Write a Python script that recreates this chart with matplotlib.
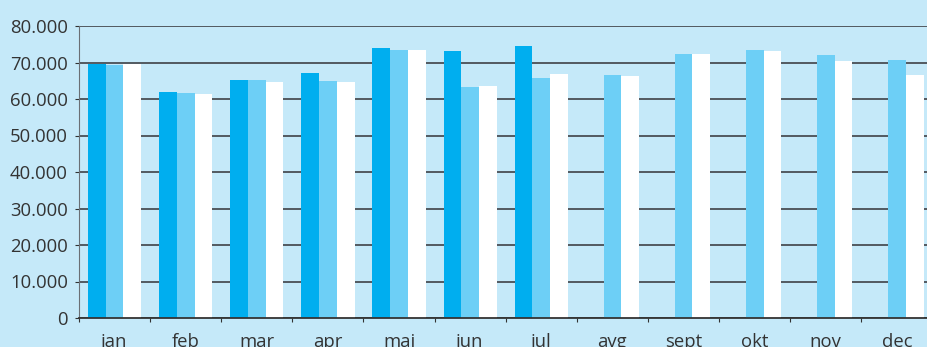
import numpy as np
import matplotlib.pyplot as plt
from matplotlib.ticker import FuncFormatter

# podatki po mesecih
months = ['jan', 'feb', 'mar', 'apr', 'maj', 'jun', 'jul', 'avg', 'sept', 'okt', 'nov', 'dec']
series_a = [69700, 61950, 65200, 67150, 74000, 73200, 74500, np.nan, np.nan, np.nan, np.nan, np.nan]
series_b = [69400, 61700, 65200, 64950, 73450, 63300, 65800, 66600, 72350, 73450, 72100, 70700]
series_c = [69700, 61400, 64700, 64700, 73450, 63600, 66900, 66300, 72350, 73200, 70400, 66600]

bg = '#c5e9f9'
plt.rcParams['font.family'] = ['Open Sans', 'DejaVu Sans']
plt.rcParams['font.size'] = 13.3

fig = plt.figure(figsize=(9.28, 3.47), dpi=100, facecolor=bg)
ax = fig.add_axes([79/928, 29/347, 853.5/928, 292/347], facecolor=bg)

x = np.arange(len(months))
w = 0.25
ax.bar(x - w, series_a, w, color='#00aeef', zorder=3)
ax.bar(x, series_b, w, color='#6dcff6', zorder=3)
ax.bar(x + w, series_c, w, color='#ffffff', zorder=3)

ax.set_xlim(-0.5, 11.5)
ax.set_ylim(0, 80000)
ax.set_yticks(np.arange(0, 80001, 10000))
ax.yaxis.set_major_formatter(FuncFormatter(lambda v, p: '0' if v == 0 else f'{int(v):,}'.replace(',', '.')))
ax.grid(axis='y', color='#4a4f55', linewidth=1.3, zorder=1)

ax.set_xticks(np.arange(-0.5, 12, 1))
ax.set_xticklabels([])
ax.set_xticks(x, minor=True)
ax.set_xticklabels(months, minor=True)
ax.tick_params(axis='x', which='minor', length=0, pad=11, colors='#333333')
ax.tick_params(axis='x', which='major', length=3, color='#333333')
ax.tick_params(axis='y', length=3, pad=5, colors='#333333')

for s in ['top', 'right']:
    ax.spines[s].set_visible(False)
ax.spines['left'].set_color('#6a6f75')
ax.spines['bottom'].set_color('#333333')
ax.spines['bottom'].set_linewidth(1.3)
ax.spines['bottom'].set_zorder(4)

plt.savefig('out.png', dpi=100, facecolor=bg)
